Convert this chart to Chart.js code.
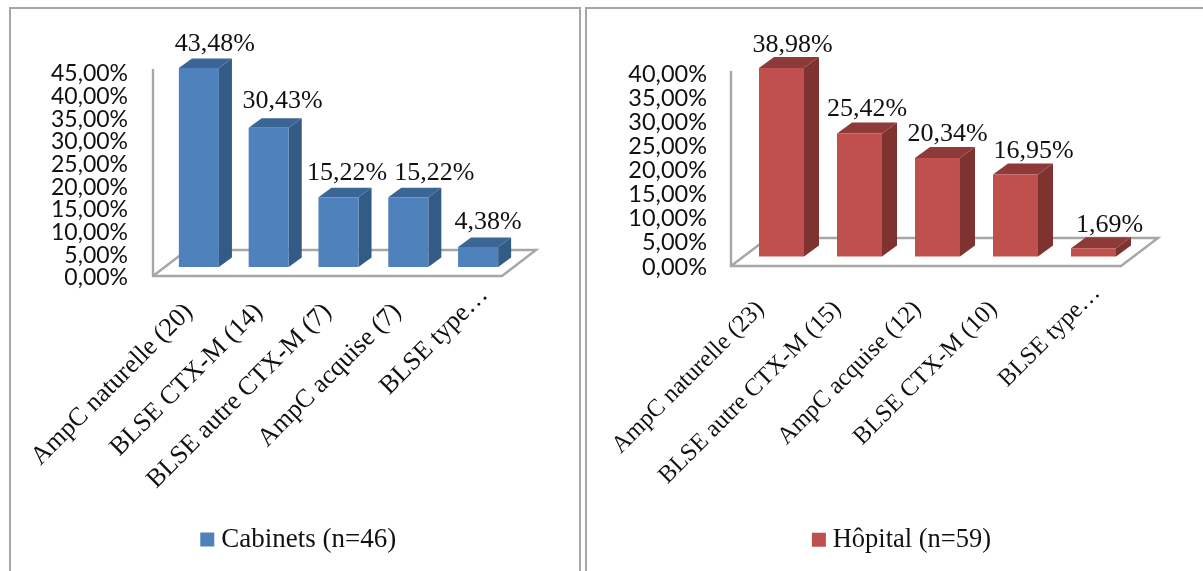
<!DOCTYPE html>
<html>
<head>
<meta charset="utf-8">
<title>Répartition des phénotypes</title>
<script src="https://cdn.jsdelivr.net/npm/chart.js@4"></script>
<style>
  html, body { margin: 0; padding: 0; background: #fff; overflow: hidden; }
  .panel { position: absolute; top: 7px; height: 564px; border: 2px solid #a6a6a6; border-bottom: none; box-sizing: border-box; }
  #panelA { left: 9px; width: 572px; }
  #panelB { left: 585px; width: 618px; border-right: none; }
  canvas { position: absolute; top: 0; }
  #chartA { left: 0; }
  #chartB { left: 583px; }
</style>
</head>
<body>
<div class="panel" id="panelA"></div>
<div class="panel" id="panelB"></div>
<canvas id="chartA" width="582" height="571"></canvas>
<canvas id="chartB" width="620" height="571"></canvas>
<script>
const cabinetsLabels = ['AmpC naturelle (20)', 'BLSE CTX-M (14)', 'BLSE autre CTX-M (7)', 'AmpC acquise (7)', 'BLSE type…'];
const cabinetsValues = [43.48, 30.43, 15.22, 15.22, 4.38];
const hopitalLabels = ['AmpC naturelle (23)', 'BLSE autre CTX-M (15)', 'AmpC acquise (12)', 'BLSE CTX-M (10)', 'BLSE type…'];
const hopitalValues = [38.98, 25.42, 20.34, 16.95, 1.69];

const pct = v => v.toFixed(2).replace('.', ',') + '%';
const AXIS_GREY = '#a6a6a6';
const PAD_BOTTOM = 8;
const LEGEND_H = 45;

// fake 3D: floor and bar sides go under the flat bars, value labels on top
const box3d = {
  id: 'box3d',
  afterLayout(chart, args, o) {
    chart.legend.left += o.legendShift;
    chart.legend.right += o.legendShift;
  },
  beforeDatasetsDraw(chart, args, o) {
    const c = chart.ctx, a = chart.chartArea;
    const x0 = o.axisX, y0 = a.bottom - o.floorLift;
    c.save();
    c.strokeStyle = AXIS_GREY;
    c.lineWidth = 2.4;
    c.beginPath();
    c.moveTo(x0, o.axisTop);
    c.lineTo(x0, y0);
    c.lineTo(x0 + o.floorW, y0);
    c.lineTo(x0 + o.floorW + o.floorDx, y0 - o.floorDy);
    c.lineTo(x0 + o.floorDx, y0 - o.floorDy);
    c.lineTo(x0, y0);
    c.stroke();

    chart.getDatasetMeta(0).data.forEach(b => {
      const r = b.x + b.width / 2, l = b.x - b.width / 2;
      // right side
      c.fillStyle = o.side;
      c.beginPath();
      c.moveTo(r, b.y);
      c.lineTo(r + o.dx, b.y - o.dy);
      c.lineTo(r + o.dx, b.base - o.dy);
      c.lineTo(r, b.base);
      c.closePath();
      c.fill();
      // top
      c.fillStyle = o.top;
      c.beginPath();
      c.moveTo(l, b.y);
      c.lineTo(l + o.dx, b.y - o.dy);
      c.lineTo(r + o.dx, b.y - o.dy);
      c.lineTo(r, b.y);
      c.closePath();
      c.fill();
    });
    c.restore();
  },
  afterDatasetsDraw(chart, args, o) {
    const c = chart.ctx, ds = chart.data.datasets[0];
    c.save();
    c.font = '26px "Liberation Serif"';
    c.fillStyle = '#111';
    c.textAlign = 'center';
    c.textBaseline = 'alphabetic';
    chart.getDatasetMeta(0).data.forEach((b, i) => {
      c.fillText(pct(ds.data[i]), b.x + o.labelDx[i], b.y - o.dy - o.labelGap[i]);
    });
    c.restore();
  }
};

function makeChart(id, name, labels, values, s) {
  return new Chart(document.getElementById(id), {
    type: 'bar',
    plugins: [box3d],
    data: {
      labels: labels,
      datasets: [{
        label: name,
        data: values,
        yAxisID: 'y',
        backgroundColor: s.front,
        borderWidth: 0,
        barPercentage: s.barPct,
        categoryPercentage: 1
      }]
    },
    options: {
      responsive: false,
      animation: false,
      layout: { padding: { left: s.padLeft, right: s.padRight, top: s.top, bottom: PAD_BOTTOM } },
      scales: {
        x: {
          grid: { display: false, drawTicks: false },
          border: { display: false },
          afterFit(scale) {
            scale.height = 571 - PAD_BOTTOM - LEGEND_H - s.bottom;
            // long rotated labels must not push the plot area in
            scale.paddingLeft = 0;
            scale.paddingRight = 0;
          },
          // each rotated label gets its own nudge
          afterBuildTicks(scale) {
            const compute = Object.getPrototypeOf(scale)._computeLabelItems;
            scale._computeLabelItems = function (area) {
              const items = compute.call(this, area);
              items.forEach((item, i) => {
                item.options.translation[0] += s.xShift[i];
                item.options.translation[1] += s.yShift[i];
              });
              return items;
            };
          },
          ticks: {
            autoSkip: false,
            minRotation: 45,
            maxRotation: 45,
            padding: s.xPad,
            color: '#111',
            font: { family: 'Liberation Serif', size: s.xFont }
          }
        },
        // bars sit on their own scale, the printed ticks are lower down as in a 3D projection
        y: { display: false, min: s.barMin, max: s.barMax },
        yTicks: {
          position: 'left',
          min: 0,
          max: s.tickMax,
          grid: { display: false, drawTicks: false },
          border: { display: false },
          afterFit(scale) { scale.width = s.chartLeft - s.padLeft; },
          ticks: {
            stepSize: 5,
            autoSkip: false,
            includeBounds: false,
            padding: s.tickPad,
            color: '#111',
            font: { family: 'Lato', size: s.tickFont },
            callback: v => pct(v)
          }
        }
      },
      plugins: {
        title: { display: false },
        tooltip: { enabled: false },
        legend: {
          position: 'bottom',
          labels: {
            // small box with a thick outline, keeps the text close to the swatch
            boxWidth: 1,
            boxHeight: 1,
            padding: 9,
            color: '#111',
            font: { family: 'Liberation Serif', size: s.legendFont, lineHeight: 1 },
            generateLabels: chart => chart.data.datasets.map((d, i) => ({
              text: d.label,
              fillStyle: s.front,
              strokeStyle: s.front,
              lineWidth: 13,
              fontColor: '#111',
              hidden: false,
              datasetIndex: i
            }))
          }
        },
        box3d: s.box
      }
    }
  });
}

makeChart('chartA', 'Cabinets (n=46)', cabinetsLabels, cabinetsValues, {
  front: '#4f81bd', barPct: 0.574, legendFont: 27, tickFont: 23,
  padLeft: 40, padRight: 69, chartLeft: 164, top: 61, bottom: 279, tickPad: 36,
  barMin: -2.39, barMax: 45, tickMax: 47.85,
  xPad: 19, xShift: [-10, -10, -11, -11, 6], yShift: [0, 0, 0, 0, -17], xFont: 26,
  box: {
    side: '#345a86', top: '#3a6595', dx: 13, dy: 9.5, legendShift: 25,
    axisX: 153, axisTop: 69, floorW: 349, floorDx: 34, floorDy: 26, floorLift: 2,
    labelDx: [16, 14, 8.5, 26, 10], labelGap: [7, 10, 8, 8, 9]
  }
});

makeChart('chartB', 'Hôpital (n=59)', hopitalLabels, hopitalValues, {
  front: '#c0504d', barPct: 0.577, legendFont: 26.5, tickFont: 23.5,
  padLeft: 40, padRight: 70.5, chartLeft: 159.5, top: 57, bottom: 267.5, tickPad: 35.5,
  barMin: -2.165, barMax: 41.24, tickMax: 43.6,
  xPad: 28, xShift: [-21, -22, -20, -22, 3], yShift: [0, 0, 0, 0, -16], xFont: 24.5,
  box: {
    side: '#7f3330', top: '#8e3a38', dx: 15, dy: 11, legendShift: 27,
    axisX: 148, axisTop: 71, floorW: 390, floorDx: 37, floorDy: 28, floorLift: 1,
    labelDx: [11, 7.5, 10, 18, 16], labelGap: [5, 7, 6, 6, 5]
  }
});
</script>
</body>
</html>
